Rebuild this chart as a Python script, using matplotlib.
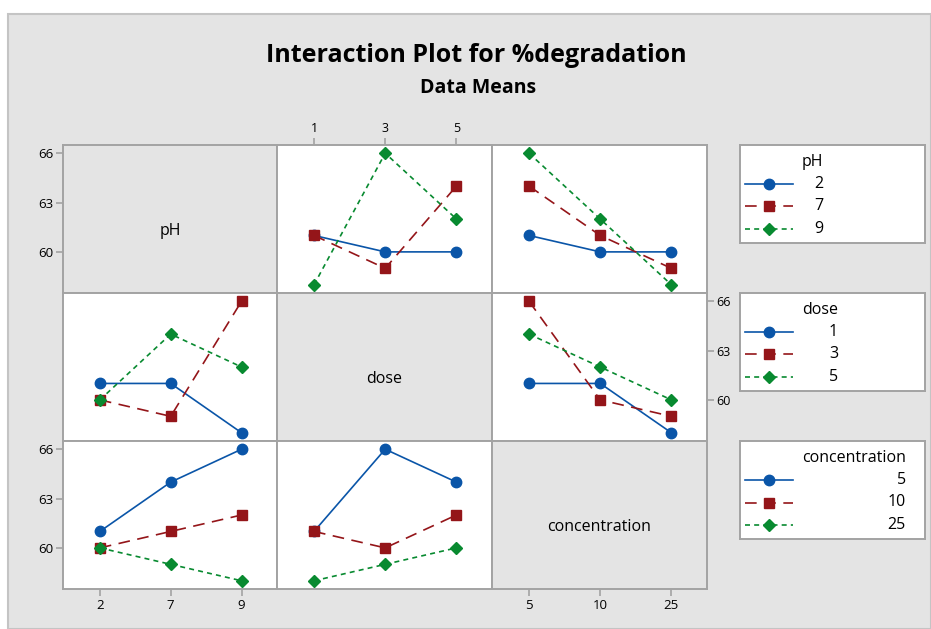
import matplotlib
matplotlib.use("Agg")
import matplotlib.pyplot as plt
from matplotlib.patches import Rectangle
from matplotlib.lines import Line2D

plt.rcParams["font.family"] = ["Open Sans", "DejaVu Sans"]

# factor names and their levels
factors = ["pH", "dose", "concentration"]
ph_levels = ["2", "7", "9"]
dose_levels = ["1", "3", "5"]
conc_levels = ["5", "10", "25"]

# data means, one row per level of the trace factor
dose_by_ph = [[61, 60, 60], [61, 59, 64], [58, 66, 62]]      # x = dose, lines = pH
conc_by_ph = [[61, 60, 60], [64, 61, 59], [66, 62, 58]]      # x = concentration, lines = pH
ph_by_dose = [[61, 61, 58], [60, 59, 66], [60, 64, 62]]      # x = pH, lines = dose
conc_by_dose = [[61, 61, 58], [66, 60, 59], [64, 62, 60]]    # x = concentration, lines = dose
ph_by_conc = [[61, 64, 66], [60, 61, 62], [60, 59, 58]]      # x = pH, lines = concentration
dose_by_conc = [[61, 66, 64], [61, 60, 62], [58, 59, 60]]    # x = dose, lines = concentration

y_ticks = [60, 63, 66]

W, H = 931, 629
fig = plt.figure(figsize=(W / 100, H / 100), dpi=100)
fig.patch.set_facecolor("white")

# grey frame behind everything
fig.patches.append(Rectangle((8 / W, 0), 1 - 8 / W, 1 - 14 / H, transform=fig.transFigure,
                             facecolor="#e4e4e4", edgecolor="#c4c4c4", linewidth=1.5, zorder=-10))

BLUE, RED, GREEN = "#0a55a8", "#941519", "#088a30"
styles = [
    dict(color=BLUE, linestyle="-", marker="o", markersize=7.5),
    dict(color=RED, linestyle=(0, (7, 4.5)), marker="s", markersize=7),
    dict(color=GREEN, linestyle=(0, (3, 2.5)), marker="D", markersize=6.5),
]
SPINE = "#a3a3a3"


def px_axes(x0, y0, x1, y1):
    return fig.add_axes([x0 / W, 1 - y1 / H, (x1 - x0) / W, (y1 - y0) / H])


col_edges = [63, 277, 492, 707]
row_edges = [145, 293, 441, 589]

panels = {
    (0, 1): (dose_levels, dose_by_ph),
    (0, 2): (conc_levels, conc_by_ph),
    (1, 0): (ph_levels, ph_by_dose),
    (1, 2): (conc_levels, conc_by_dose),
    (2, 0): (ph_levels, ph_by_conc),
    (2, 1): (dose_levels, dose_by_conc),
}
x_labels = [ph_levels, dose_levels, conc_levels]

for r in range(3):
    for c in range(3):
        ax = px_axes(col_edges[c], row_edges[r], col_edges[c + 1], row_edges[r + 1])
        ax.set_xlim(-0.52, 2.5)
        ax.set_ylim(57.5, 66.5)
        for s in ax.spines.values():
            s.set_color(SPINE)
            s.set_linewidth(1.4)
        ax.tick_params(colors=SPINE, labelcolor="black", labelsize=9.5, length=5, width=1.2, pad=2)
        ax.set_xticks(range(3))
        ax.set_xticklabels(x_labels[c])
        ax.set_yticks(y_ticks)
        ax.tick_params(axis="x", bottom=False, labelbottom=False, top=False, labeltop=False)
        ax.tick_params(axis="y", left=False, labelleft=False, right=False, labelright=False)

        if r == c:
            ax.set_facecolor("#e4e4e4")
            ax.text(0.5, 0.42, factors[r], transform=ax.transAxes, ha="center", va="center",
                    fontsize=11.5)
        else:
            ax.set_facecolor("white")
            xs, series = panels[(r, c)]
            for vals, st in zip(series, styles):
                ax.plot(range(len(xs)), vals, linewidth=1.2, **st)

        # axis ticks along the outer edges
        if r == 0 and c == 1:
            ax.tick_params(axis="x", top=True, labeltop=True, labelsize=9)
        if r == 2 and c in (0, 2):
            ax.tick_params(axis="x", bottom=True, labelbottom=True)
        if c == 0 and r in (0, 2):
            ax.tick_params(axis="y", left=True, labelleft=True)
        if c == 2 and r == 1:
            ax.tick_params(axis="y", right=True, labelright=True, labelsize=9)

# legends, one per trace factor
legend_tops = [145, 293, 441]
legend_levels = [ph_levels, dose_levels, conc_levels]
fig.canvas.draw()
renderer = fig.canvas.get_renderer()
for name, top, levels in zip(factors, legend_tops, legend_levels):
    lax = px_axes(740, top, 925, top + 98)
    lax.set_xlim(740, 925)
    lax.set_ylim(top + 98, top)
    lax.set_xticks([])
    lax.set_yticks([])
    lax.set_facecolor("white")
    for s in lax.spines.values():
        s.set_color(SPINE)
        s.set_linewidth(1.4)
    title = lax.text(802, top + 17, name, ha="left", va="center", fontsize=11.5)
    ext = title.get_window_extent(renderer)
    right_px = lax.transData.inverted().transform((ext.x1, 0))[0]
    for i, (lvl, st) in enumerate(zip(levels, styles)):
        yy = top + 39 + i * 22.5
        lax.add_line(Line2D([745, 793], [yy, yy], linewidth=1.2, color=st["color"],
                            linestyle=st["linestyle"]))
        lax.add_line(Line2D([769], [yy], color=st["color"], marker=st["marker"],
                            markersize=st["markersize"]))
        lax.text(right_px, yy, lvl, ha="right", va="center", fontsize=11.5)

fig.text(476 / W, 1 - 55 / H, "Interaction Plot for %degradation", ha="center", va="center",
         fontsize=18, fontweight="bold")
fig.text(478 / W, 1 - 88 / H, "Data Means", ha="center", va="center",
         fontsize=14, fontweight="bold")

fig.savefig("out.png", dpi=100)
